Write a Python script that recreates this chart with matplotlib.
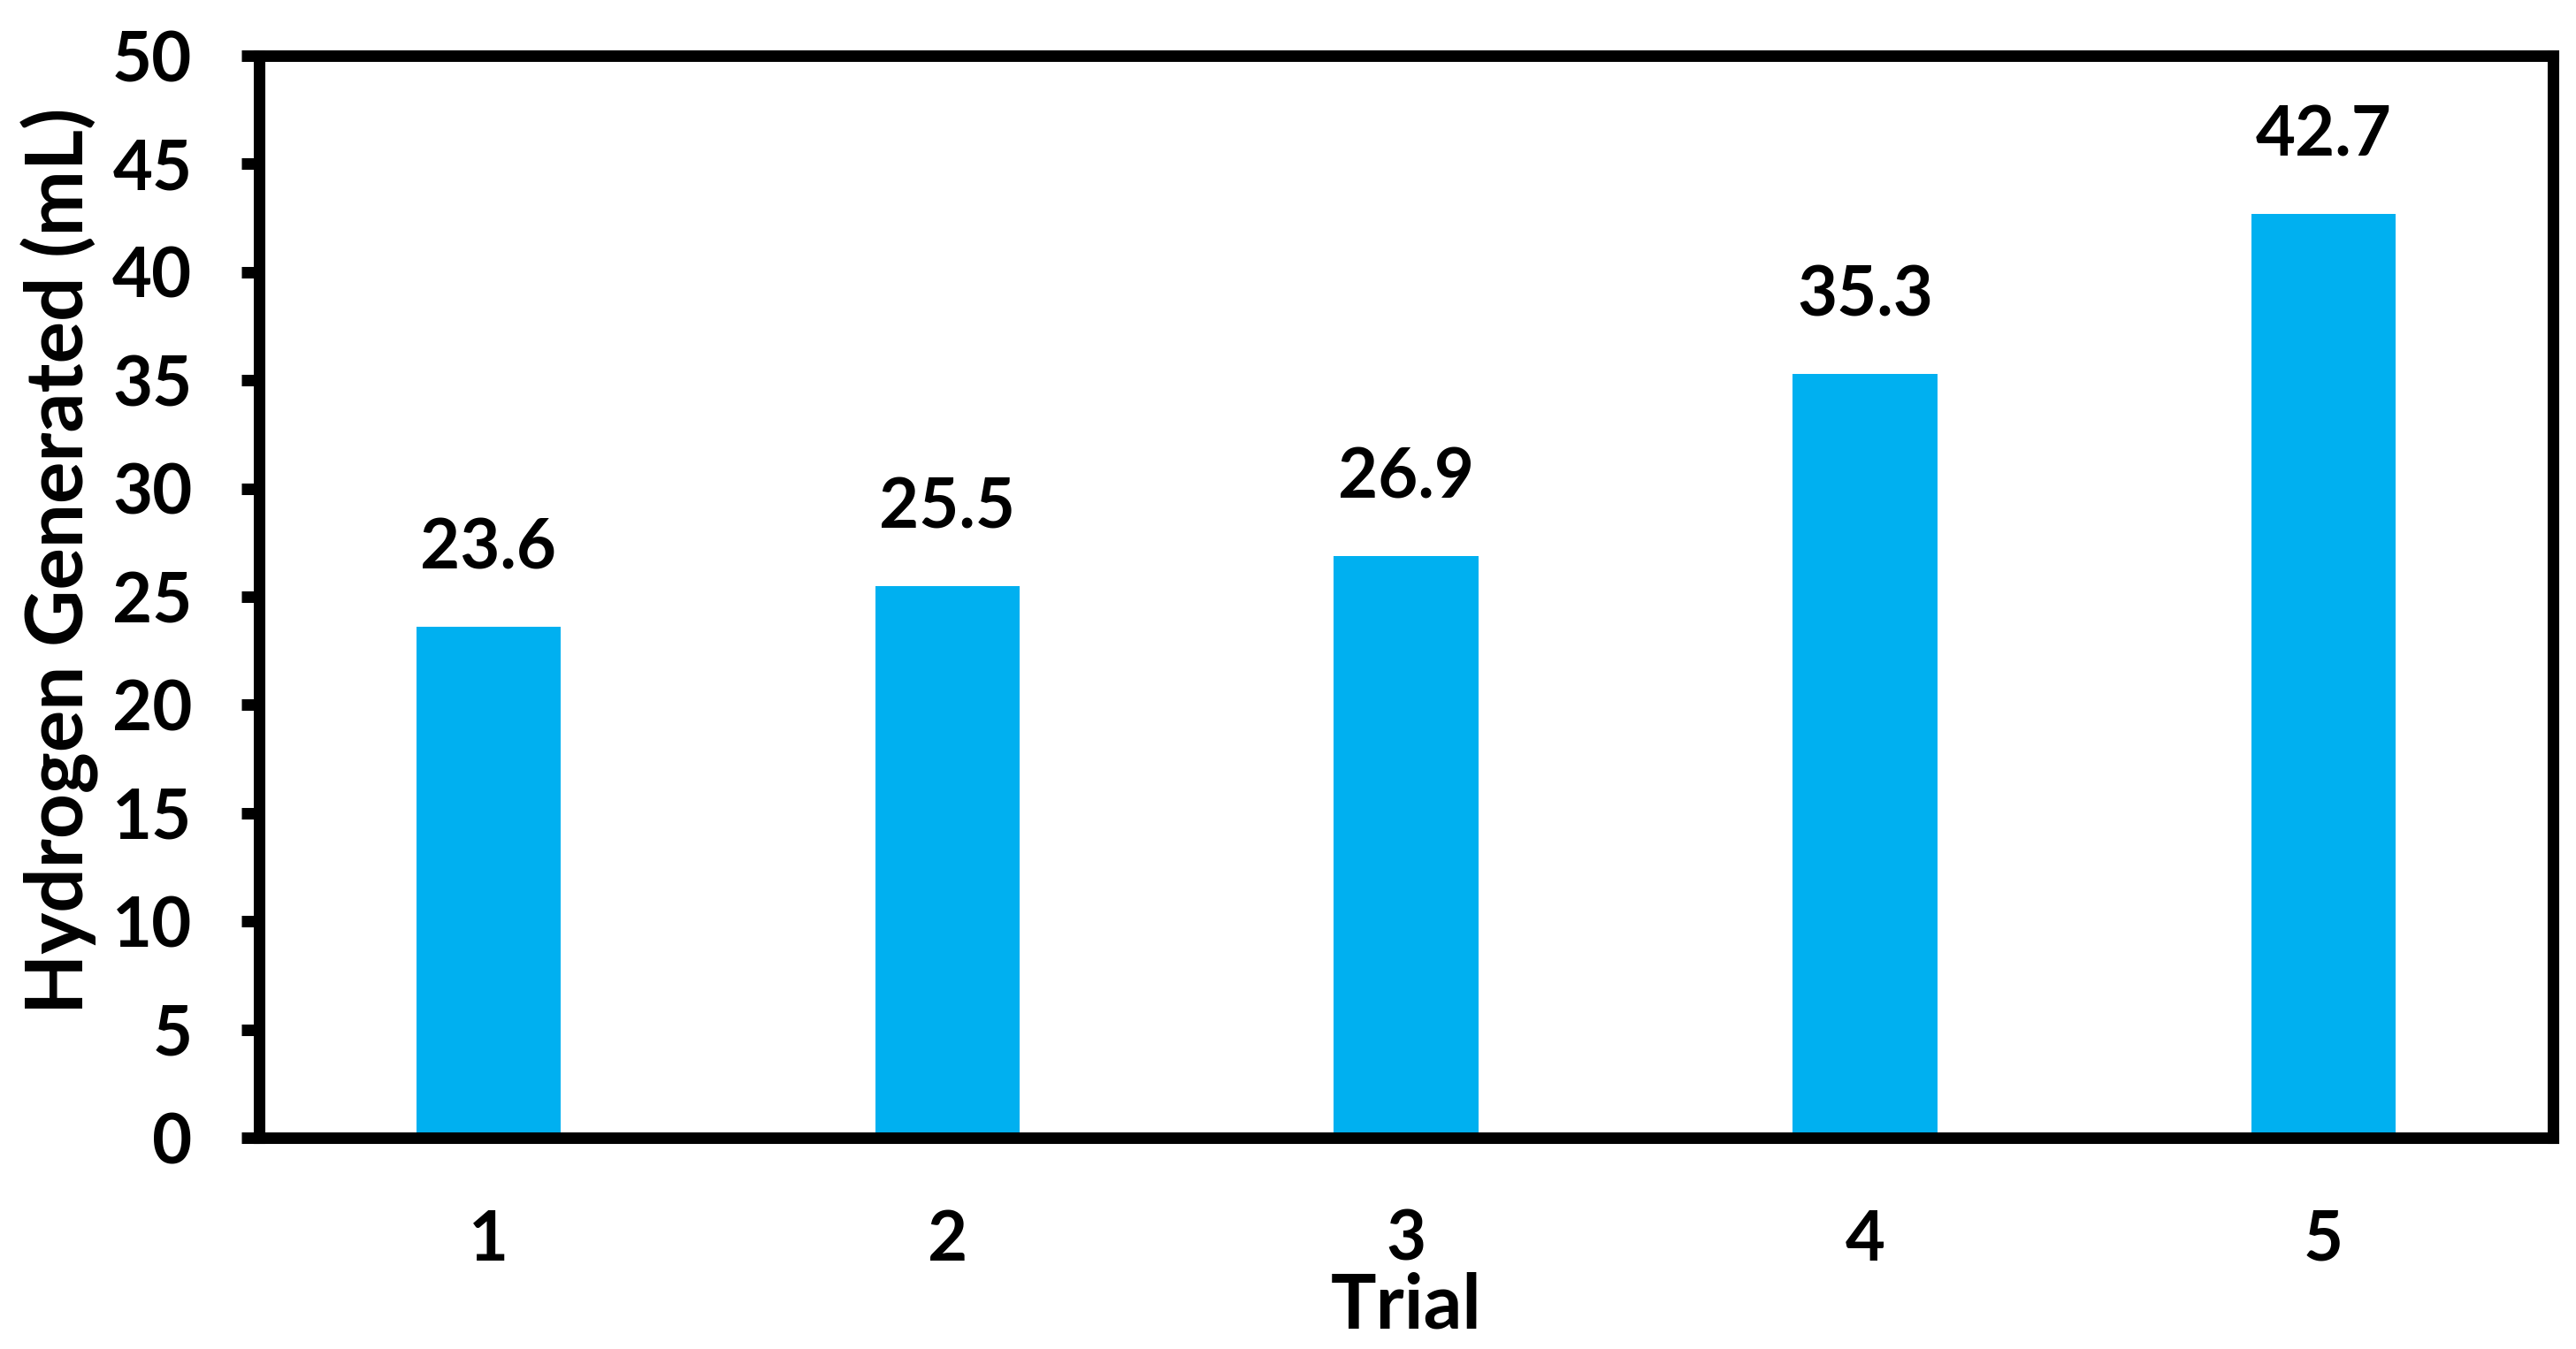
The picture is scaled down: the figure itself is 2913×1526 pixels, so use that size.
import matplotlib.pyplot as plt

trials = [1, 2, 3, 4, 5]
hydrogen_ml = [23.6, 25.5, 26.9, 35.3, 42.7]
y_ticks = [0, 5, 10, 15, 20, 25, 30, 35, 40, 45, 50]

plt.rcParams['font.family'] = ['Lato', 'DejaVu Sans']
plt.rcParams['font.weight'] = 'bold'

fig = plt.figure(figsize=(14.565, 7.63), dpi=200)
ax = fig.add_axes([0.1006, 0.1566, 0.8905, 0.8021])

ax.bar(trials, hydrogen_ml, width=0.315, color='#00B0F0', zorder=2)

# value labels above each bar
for t, v in zip(trials, hydrogen_ml):
    ax.annotate(str(v), xy=(t, v), xytext=(0, 31.5), textcoords='offset points',
                ha='center', va='center', fontsize=28, fontweight='bold')

ax.set_xlim(0.5, 5.5)
ax.set_ylim(0, 50)
ax.set_xticks(trials)
ax.set_yticks(y_ticks)

for s in ax.spines.values():
    s.set_linewidth(4.7)
    s.set_color('black')
    s.set_capstyle('projecting')

ax.tick_params(axis='x', length=0, pad=29, labelsize=28)
ax.tick_params(axis='y', length=7.2, width=4.7, pad=20, labelsize=28, direction='out')
for lab in ax.get_xticklabels() + ax.get_yticklabels():
    lab.set_fontweight('bold')

ax.set_xlabel('Trial', fontsize=31, fontweight='bold', va='center')
ax.xaxis.set_label_coords(0.5, -0.156)
ax.set_ylabel('Hydrogen Generated (mL)', fontsize=32, fontweight='bold', va='center')
ax.yaxis.set_label_coords(-0.0867, 0.533)

fig.savefig('out.png', dpi=200)
